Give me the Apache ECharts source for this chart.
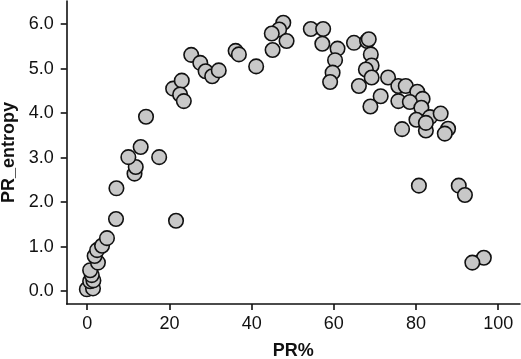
<!DOCTYPE html>
<html>
<head>
<meta charset="utf-8">
<script src="https://cdn.jsdelivr.net/npm/echarts@6/dist/echarts.min.js"></script>
<style>html,body{margin:0;padding:0;background:#fff}#c{width:521px;height:359px}</style>
</head>
<body>
<div id="c"></div>
<script>
const xTicks = [0, 20, 40, 60, 80, 100];
const yTicks = [0, 1, 2, 3, 4, 5, 6];
const prPercent = [
  -0.1, 1.4, 0.7, 1.5, 1.1, 0.7, 2.6, 1.8, 2.4, 3.6, 4.8, 7.0, 7.1,
  11.5, 11.8, 10.0, 17.5, 13.0, 14.3, 21.6,
  20.9, 23.0, 22.6, 23.5,
  25.3, 27.5, 28.8, 30.4, 32.0,
  36.1, 36.9, 41.1,
  47.7, 46.7, 44.9, 48.5, 45.1,
  54.4, 57.4, 57.2, 60.9, 60.3, 59.7, 59.1,
  64.9, 68.1, 68.5, 69.0, 69.2, 67.8, 69.2, 66.1,
  71.4, 68.9,
  73.2, 75.7, 77.5, 80.3, 81.6, 75.7, 78.5, 81.3, 80.1, 83.4, 86.0, 82.4, 82.4, 87.8, 87.0, 76.6,
  80.7, 90.4, 91.9, 96.5, 93.7
];
const prEntropy = [
  0.04, 0.06, 0.22, 0.24, 0.36, 0.47, 0.64, 0.79, 0.92, 1.02, 1.19, 1.62, 2.31,
  2.64, 2.79, 3.01, 3.01, 3.24, 3.92, 1.58,
  4.55, 4.73, 4.42, 4.27,
  5.31, 5.13, 4.94, 4.83, 4.96,
  5.40, 5.32, 5.05,
  6.03, 5.88, 5.79, 5.62, 5.42,
  5.89, 5.89, 5.56, 5.45, 5.19, 4.91, 4.70,
  5.58, 5.62, 5.66, 5.32, 5.07, 4.98, 4.80, 4.61,
  4.38, 4.15,
  4.80, 4.61, 4.61, 4.48, 4.32, 4.27, 4.25, 4.12, 3.85, 3.91, 3.99, 3.61, 3.78, 3.65, 3.54, 3.64,
  2.37, 2.37, 2.16, 0.75, 0.64
];
const points = prPercent.map((x, i) => [x, prEntropy[i]]);
const chart = echarts.init(document.getElementById('c'), null, {renderer: 'canvas'});
const axisFont = 'Liberation Sans, Arial, sans-serif';
chart.setOption({
  animation: false,
  backgroundColor: '#fff',
  grid: {left: 66.7, right: 1, top: 1, bottom: 55, containLabel: false, outerBoundsMode: 'none'},
  xAxis: {
    type: 'value', min: -5, max: 105.3,
    name: 'PR%', nameLocation: 'middle', nameGap: 38,
    nameTextStyle: {fontFamily: axisFont, fontSize: 18, fontWeight: 'bold', color: '#111'},
    splitLine: {show: false},
    axisLine: {show: true, onZero: false, lineStyle: {color: '#111', width: 1.6}},
    axisTick: {show: true, length: 6, lineStyle: {color: '#111', width: 1.6}, customValues: xTicks},
    axisLabel: {fontFamily: axisFont, fontSize: 18, color: '#111', margin: 11, customValues: xTicks}
  },
  yAxis: {
    type: 'value', min: -0.29, max: 6.52,
    name: 'PR_entropy', nameLocation: 'middle', nameGap: 48, nameRotate: 90,
    nameTextStyle: {fontFamily: axisFont, fontSize: 18, fontWeight: 'bold', color: '#111'},
    splitLine: {show: false},
    axisLine: {show: true, onZero: false, lineStyle: {color: '#111', width: 1.6}},
    axisTick: {show: true, length: 6, lineStyle: {color: '#111', width: 1.6}, customValues: yTicks},
    axisLabel: {fontFamily: axisFont, fontSize: 18, color: '#111', margin: 13, customValues: yTicks,
      formatter: v => v.toFixed(1)}
  },
  series: [{
    type: 'scatter',
    data: points,
    symbol: 'circle',
    symbolSize: 14.5,
    itemStyle: {color: '#c8c8c8', borderColor: '#111', borderWidth: 1.6, opacity: 1}
  }]
});
</script>
</body>
</html>
